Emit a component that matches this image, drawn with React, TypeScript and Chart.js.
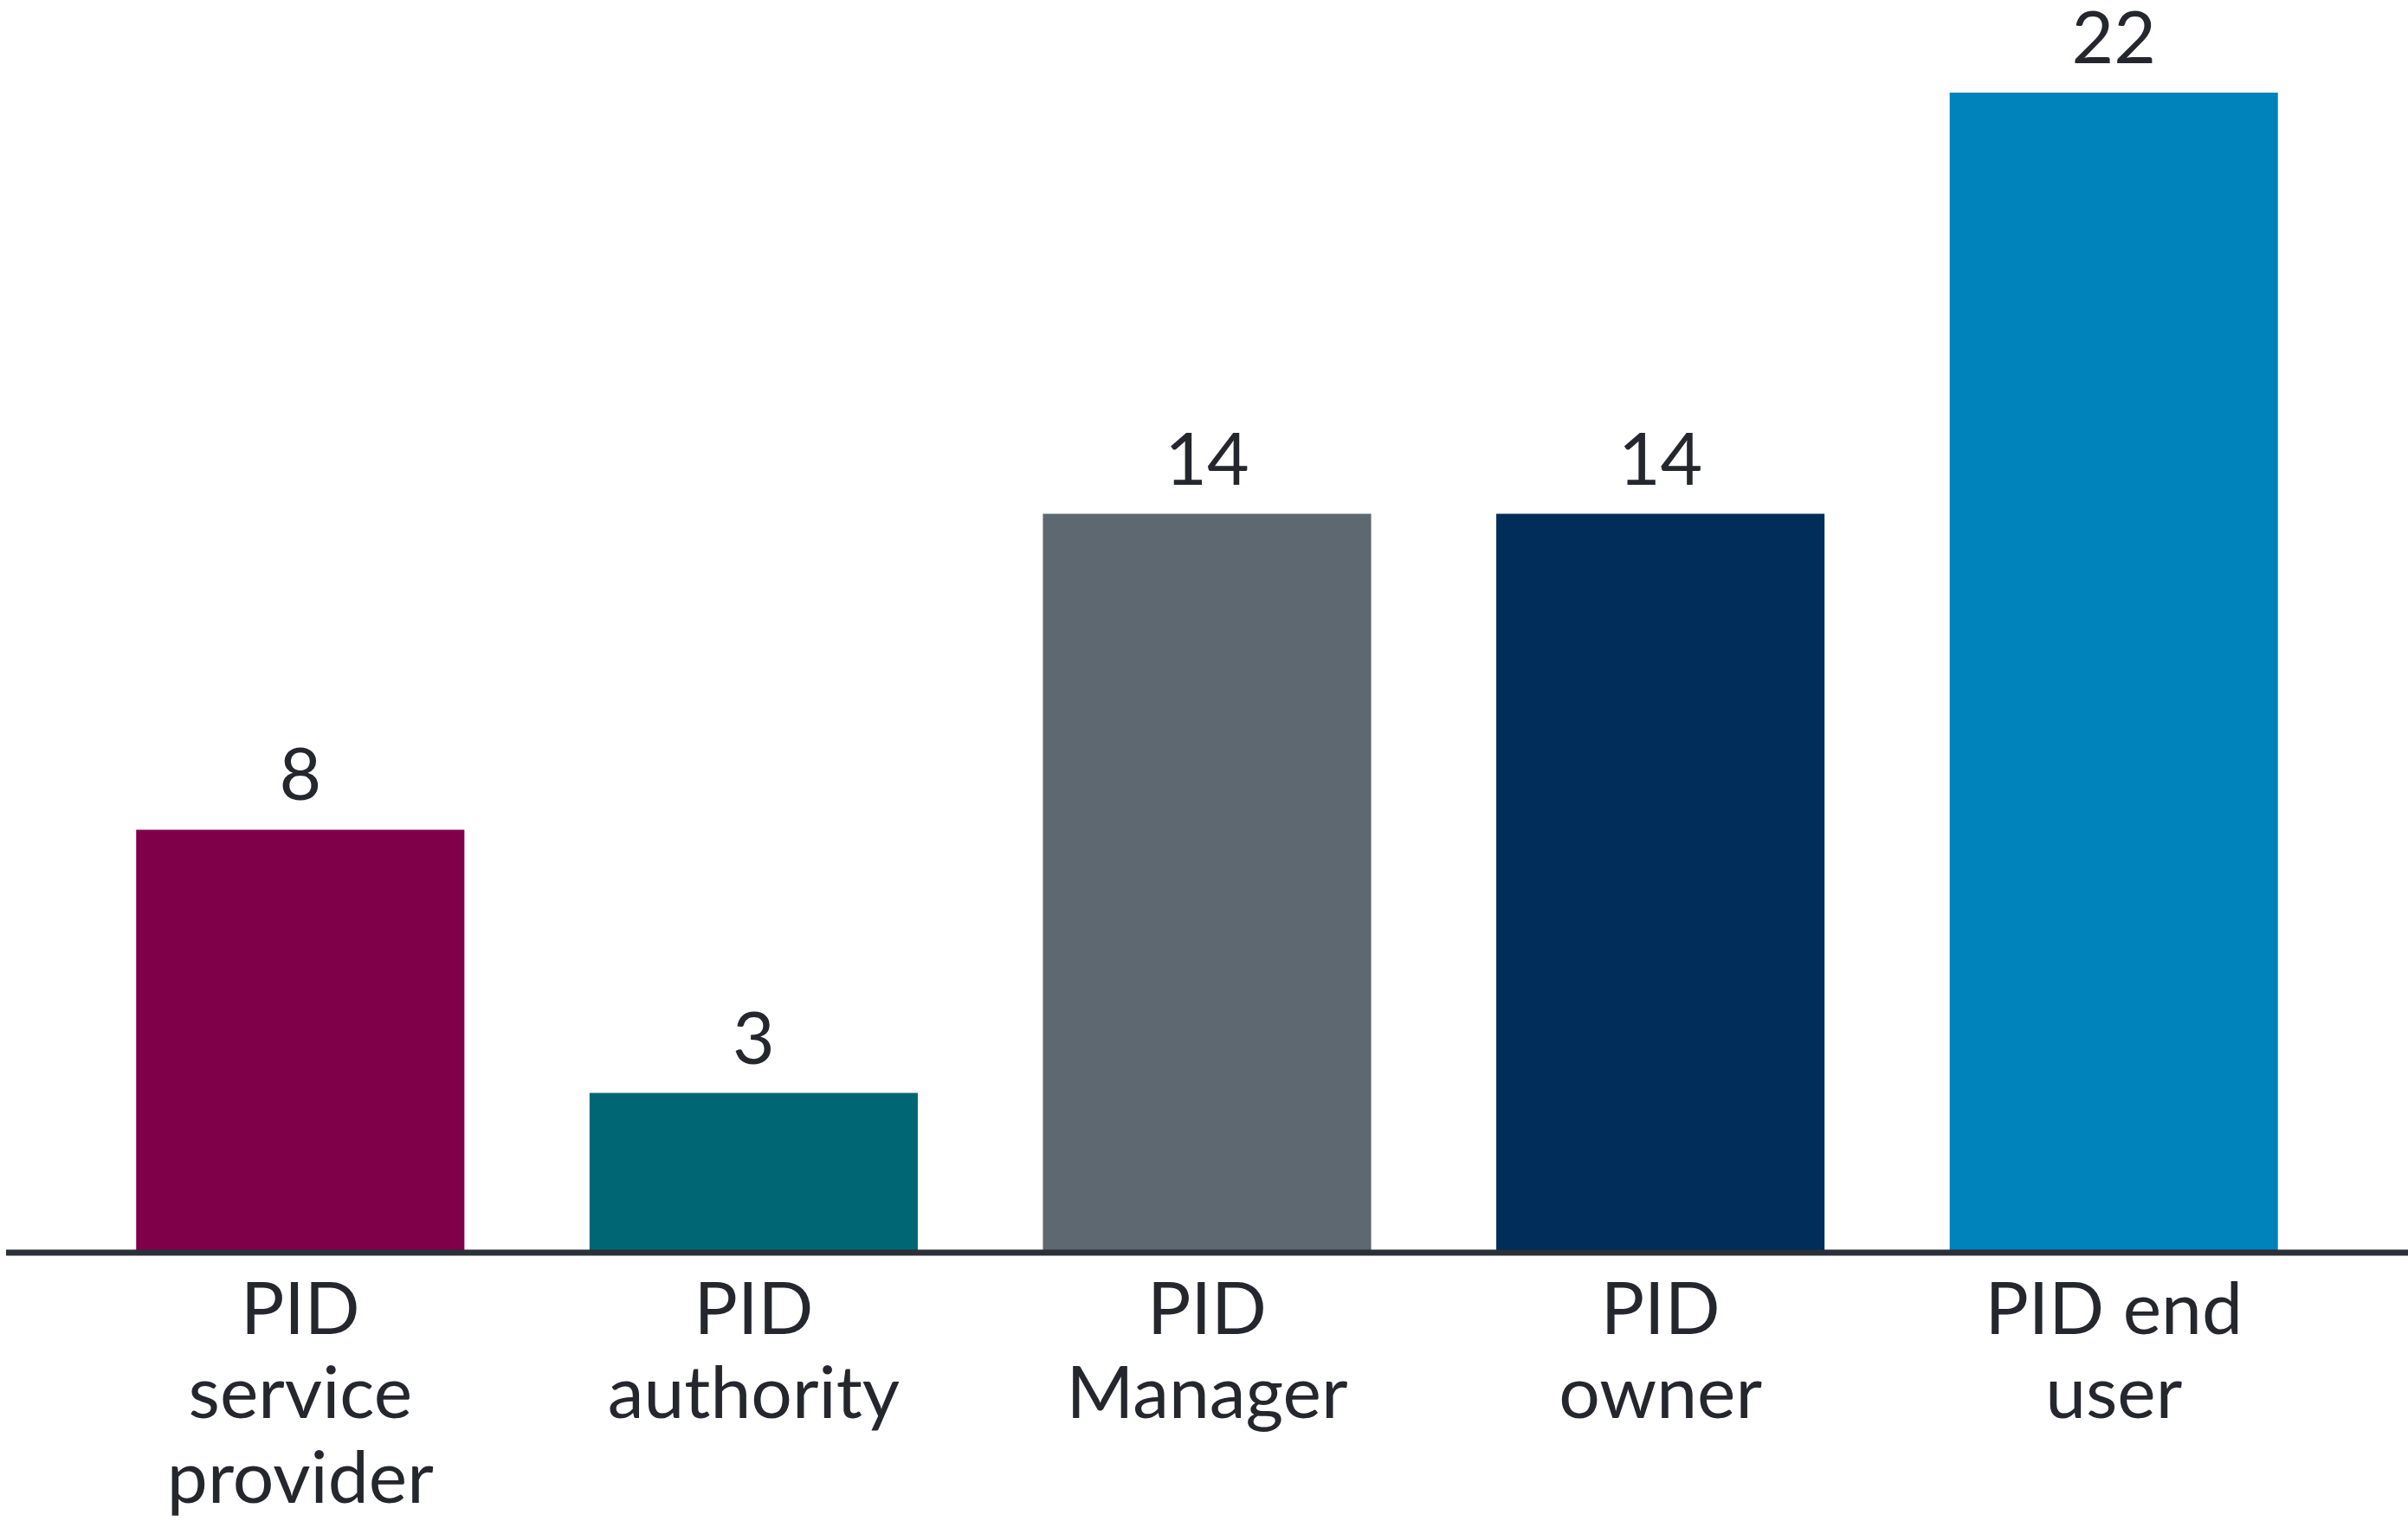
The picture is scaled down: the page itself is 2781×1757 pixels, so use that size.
import React, { useEffect, useRef } from "react";
import { Chart, registerables } from "chart.js";

Chart.register(...registerables);

const categories: string[][] = [
  ["PID", "service", "provider"],
  ["PID", "authority"],
  ["PID", "Manager"],
  ["PID", "owner"],
  ["PID end", "user"],
];
const values: number[] = [8, 3, 14, 14, 22];
const barColors: string[] = ["#7f0048", "#006674", "#5d6870", "#002d5a", "#0082bb"];

const W = 2781;
const H = 1757;
const FONT = "Lato, 'Noto Sans', sans-serif";
const TEXT = "#24272d";

const valueLabels = {
  id: "valueLabels",
  afterDatasetsDraw(chart: any) {
    const ctx = chart.ctx;
    const meta = chart.getDatasetMeta(0);
    ctx.save();
    ctx.font = `84px ${FONT}`;
    ctx.fillStyle = TEXT;
    ctx.textAlign = "center";
    ctx.textBaseline = "alphabetic";
    meta.data.forEach((bar: any, i: number) => {
      ctx.fillText(String(values[i]), bar.x, bar.y - 34);
    });
    ctx.restore();
  },
};

const baseline = {
  id: "baseline",
  afterDatasetsDraw(chart: any) {
    const ctx = chart.ctx;
    const y = chart.scales.y.getPixelForValue(0);
    ctx.save();
    ctx.strokeStyle = "#2a2f38";
    ctx.lineWidth = 7;
    ctx.beginPath();
    ctx.moveTo(7, y + 2);
    ctx.lineTo(W, y + 2);
    ctx.stroke();
    ctx.restore();
  },
};

const bgPlugin = {
  id: "bg",
  beforeDraw(chart: any) {
    const ctx = chart.ctx;
    ctx.save();
    ctx.fillStyle = "#ffffff";
    ctx.fillRect(0, 0, chart.width, chart.height);
    ctx.restore();
  },
};

export default function App() {
  const ref = useRef<HTMLCanvasElement | null>(null);
  useEffect(() => {
    if (!ref.current) return;
    const chart = new Chart(ref.current, {
      type: "bar",
      data: {
        labels: categories,
        datasets: [
          {
            data: values,
            backgroundColor: barColors,
            borderWidth: 0,
            barPercentage: 0.724,
            categoryPercentage: 1,
          },
        ],
      },
      options: {
        responsive: false,
        animation: false,
        devicePixelRatio: 1,
        layout: { padding: { left: 85, right: 78, top: 107, bottom: 0 } },
        plugins: {
          legend: { display: false },
          tooltip: { enabled: false },
        },
        scales: {
          x: {
            grid: { display: false, drawTicks: false },
            border: { display: false },
            afterFit: (scale: any) => {
              scale.height = H - 1445;
            },
            ticks: {
              color: TEXT,
              padding: 20,
              maxRotation: 0,
              autoSkip: false,
              font: { family: FONT, size: 84, lineHeight: 1.16 },
            },
          },
          y: {
            display: false,
            min: 0,
            max: 22,
          },
        },
      },
      plugins: [bgPlugin, valueLabels, baseline],
    });
    return () => chart.destroy();
  }, []);
  return (
    <div style={{ position: "absolute", left: 0, top: 0, width: W, height: H }}>
      <canvas ref={ref} width={W} height={H} style={{ width: W, height: H, display: "block" }} />
    </div>
  );
}
